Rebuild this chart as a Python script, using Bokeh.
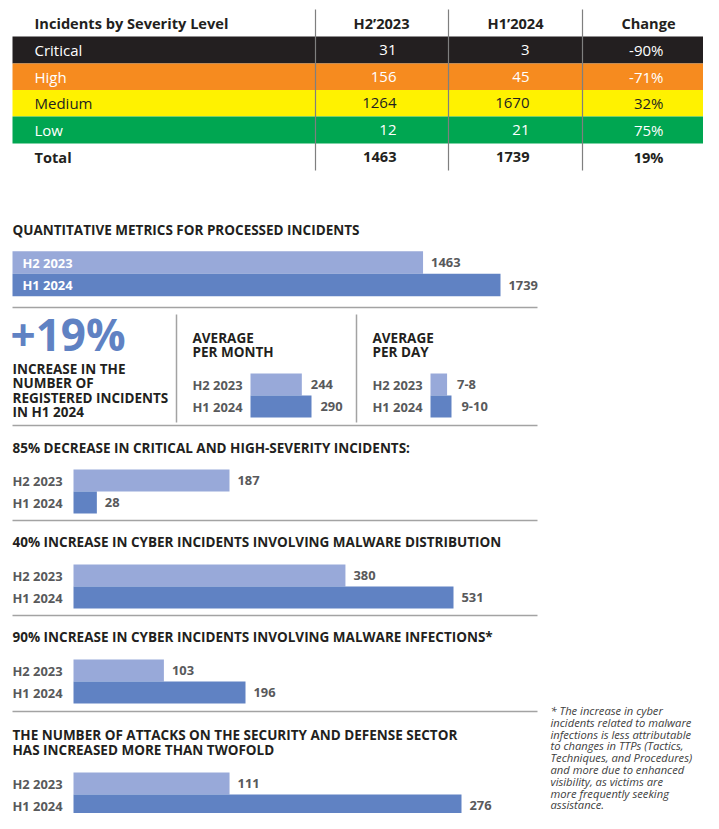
from bokeh.plotting import figure
from bokeh.models import Range1d, ColumnDataSource
from bokeh.core.properties import value
from bokeh.embed import file_html
from bokeh.resources import INLINE

# ---------------- data ----------------
table_columns = ["Incidents by Severity Level", "H2\u20192023", "H1\u20192024", "Change"]
severity_levels = ["Critical", "High", "Medium", "Low"]
h2_2023_by_severity = [31, 156, 1264, 12]
h1_2024_by_severity = [3, 45, 1670, 21]
change_by_severity = ["-90%", "-71%", "32%", "75%"]
total_label = "Total"
total_h2_2023 = 1463
total_h1_2024 = 1739
total_change = "19%"

periods = ["H2 2023", "H1 2024"]
processed_incidents = [1463, 1739]
increase_label = "+19%"
avg_per_month = [244, 290]
avg_per_day = [7.5, 9.5]
avg_per_day_labels = ["7-8", "9-10"]
critical_high_incidents = [187, 28]
malware_distribution = [380, 531]
malware_infections = [103, 196]
defense_sector_attacks = [111, 276]

footnote_lines = [
    "* The increase in cyber",
    "incidents related to malware",
    "infections is less attributable",
    "to changes in TTPs (Tactics,",
    "Techniques, and Procedures)",
    "and more due to enhanced",
    "visibility, as victims are",
    "more frequently seeking",
    "assistance.",
]

# ---------------- style ----------------
FONT = "Open Sans"
DARK = "#231f20"
GREY = "#58595b"
LIGHT = "#98a9d9"
BLUE = "#6082c3"
RULE = "#a3a3a3"
severity_colors = ["#231f20", "#f68b1f", "#fff200", "#00a651"]
severity_text = ["#ffffff", "#ffffff", DARK, "#ffffff"]
TH = 14.6      # table header size (bold)
TS = 15.0      # table body size
HS = 13.5      # heading size
LS = 12.9      # small label size

W, H = 703, 813
p = figure(width=W, height=H, x_range=Range1d(0, W), y_range=Range1d(H, 0),
           output_backend="svg", toolbar_location=None, min_border=0,
           x_axis_location=None, y_axis_location=None)
p.grid.visible = False
p.outline_line_color = None
p.background_fill_color = "white"


def txt(x, y, t, size, color=DARK, style="bold", align="left", rng="default", x_offset=0):
    if not isinstance(t, list):
        x, y, t = [x], [y], [t]
    if not isinstance(color, list):
        color = [color] * len(t)
    src = ColumnDataSource(dict(x=x, y=y, text=[str(s) for s in t], c=color))
    p.text(x="x", y="y", text="text", source=src, text_font=value(FONT),
           text_font_size=f"{size}px", text_font_style=style, text_color="c",
           text_align=align, text_baseline="middle", x_range_name=rng, x_offset=x_offset)


def scale(name, x0, x1, v1):
    k = v1 / (x1 - x0)
    p.extra_x_ranges[name] = Range1d(-x0 * k, (W - x0) * k)


def hrule(y, x0=12, x1=537):
    p.segment(x0=[x0], y0=[y], x1=[x1], y1=[y], line_color=RULE, line_width=1.5)


def vrule(x, y0, y1, color=RULE, w=1.5):
    p.segment(x0=[x], y0=[y0], x1=[x], y1=[y1], line_color=color, line_width=w)


# ---------------- table ----------------
row_top = [36, 63, 89.5, 116]
row_bot = [63, 89.5, 116, 143]
row_mid = [(a + b) / 2 for a, b in zip(row_top, row_bot)]
p.quad(left=12, right=715, top=row_top, bottom=row_bot, fill_color=severity_colors, line_color=None)

txt(34, 22, table_columns[0], TH)
txt([381, 515, 648], [22, 22, 22], table_columns[1:], TH, align="center")
txt([34] * 4, row_mid, severity_levels, TS, color=severity_text, style="normal")
txt([396] * 4, row_mid, h2_2023_by_severity, TS, color=severity_text, style="normal", align="right")
txt([529] * 4, row_mid, h1_2024_by_severity, TS, color=severity_text, style="normal", align="right")
txt([663] * 4, row_mid, change_by_severity, TS, color=severity_text, style="normal", align="right")
txt(34, 156, total_label, TH)
txt([396, 529, 663], [156] * 3, [total_h2_2023, total_h1_2024, total_change], TH, align="right")
for xd in (315, 448, 582):
    vrule(xd, 9, 170, color="#7f7f7f", w=1.2)

# ---------------- processed incidents ----------------
txt(12, 229, "QUANTITATIVE METRICS FOR PROCESSED INCIDENTS", HS)
scale("proc", 12, 500, processed_incidents[1])
ys = [262, 284.5]
p.hbar(y=ys, left=0, right=processed_incidents, height=22.5, fill_color=[LIGHT, BLUE],
       line_color=None, x_range_name="proc")
txt([22, 22], ys, periods, LS, color="#ffffff")
txt(processed_incidents, ys, processed_incidents, LS, color=GREY, rng="proc", x_offset=8)
hrule(307)

# +19 %
txt(10, 333, increase_label, 44, color=BLUE)
txt([12] * 4, [368, 382.5, 397, 411.5],
    ["INCREASE IN THE", "NUMBER OF", "REGISTERED INCIDENTS", "IN H1 2024"], HS)
vrule(176, 314, 422)
vrule(356, 314, 422)

# average per month
txt([192, 192], [337, 351], ["AVERAGE", "PER MONTH"], HS)
ys2 = [384, 406]
scale("month", 250, 311, avg_per_month[1])
p.hbar(y=ys2, left=0, right=avg_per_month, height=22, fill_color=[LIGHT, BLUE],
       line_color=None, x_range_name="month")
txt([192, 192], ys2, periods, LS, color=GREY)
txt(avg_per_month, ys2, avg_per_month, LS, color=GREY, rng="month", x_offset=9)

# average per day
txt([372, 372], [337, 351], ["AVERAGE", "PER DAY"], HS)
scale("day", 430, 451, avg_per_day[1])
p.hbar(y=ys2, left=0, right=avg_per_day, height=22, fill_color=[LIGHT, BLUE],
       line_color=None, x_range_name="day")
txt([372, 372], ys2, periods, LS, color=GREY)
txt(avg_per_day, ys2, avg_per_day_labels, LS, color=GREY, rng="day", x_offset=10)
hrule(425)


# ---------------- comparison sections ----------------
def section(title_lines, title_y, bar_y, values, name, x_end_max):
    txt([12] * len(title_lines), [title_y + 15 * i for i in range(len(title_lines))], title_lines, HS)
    scale(name, 73, x_end_max, max(values))
    yb = [bar_y + 11, bar_y + 33]
    p.hbar(y=yb, left=0, right=values, height=22, fill_color=[LIGHT, BLUE],
           line_color=None, x_range_name=name)
    txt([12, 12], yb, periods, LS, color=GREY)
    txt(values, yb, values, LS, color=GREY, rng=name, x_offset=8)


section(["85% DECREASE IN CRITICAL AND HIGH-SEVERITY INCIDENTS:"], 447, 469,
        critical_high_incidents, "crit", 229)
hrule(520)
section(["40% INCREASE IN CYBER INCIDENTS INVOLVING MALWARE DISTRIBUTION"], 541, 564,
        malware_distribution, "dist", 453)
hrule(615)
section(["90% INCREASE IN CYBER INCIDENTS INVOLVING MALWARE INFECTIONS*"], 636, 659,
        malware_infections, "inf", 245)
hrule(711)
section(["THE NUMBER OF ATTACKS ON THE SECURITY AND DEFENSE SECTOR",
         "HAS INCREASED MORE THAN TWOFOLD"], 734, 772,
        defense_sector_attacks, "def", 461)

# footnote
txt([550] * len(footnote_lines), [710 + 11.8 * i for i in range(len(footnote_lines))],
    footnote_lines, 11.2, color="#404040", style="italic")

open("out.html", "w").write(file_html(p, INLINE))
